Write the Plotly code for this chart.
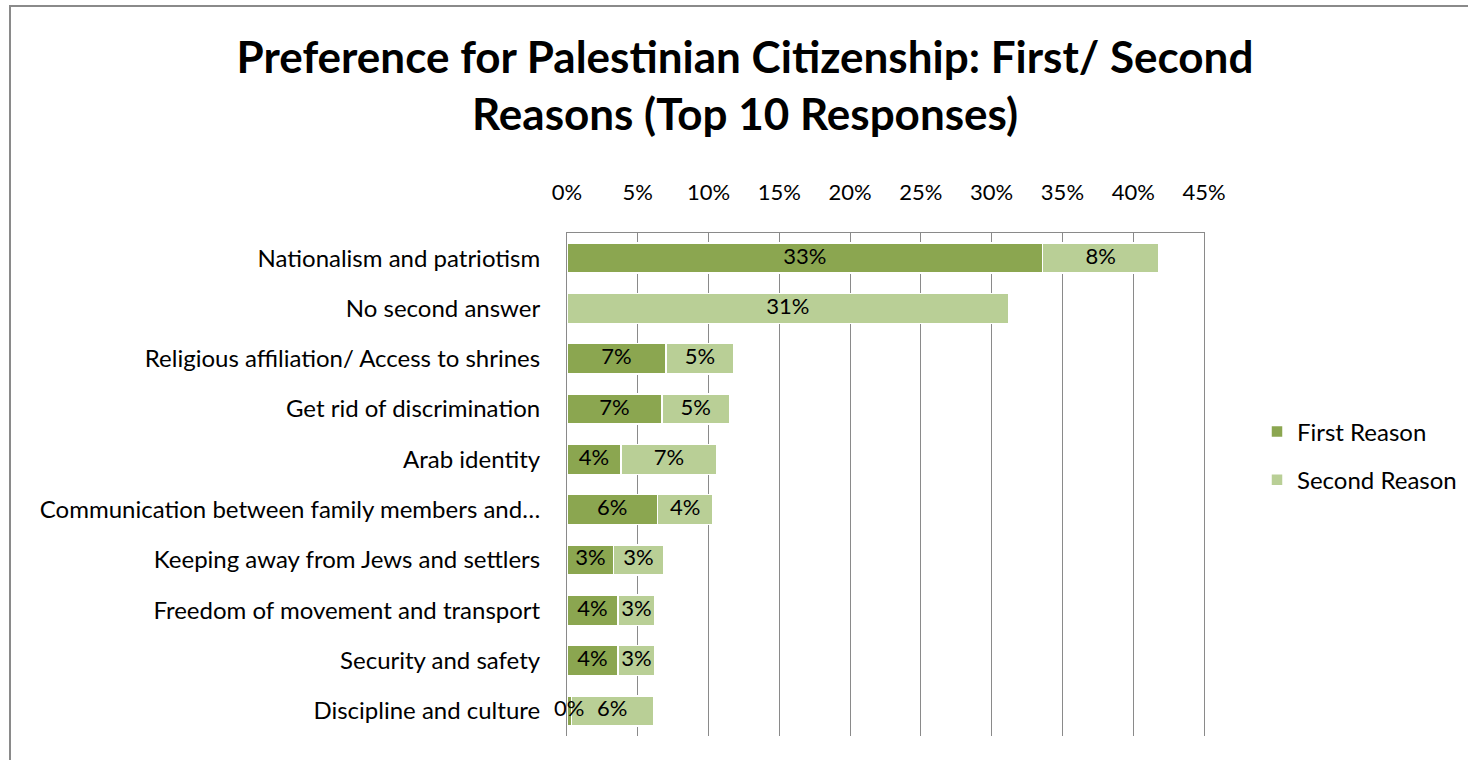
import plotly.graph_objects as go

categories = [
    "Nationalism and patriotism",
    "No second answer",
    "Religious affiliation/ Access to shrines",
    "Get rid of discrimination",
    "Arab identity",
    "Communication between family members and…",
    "Keeping away from Jews and settlers",
    "Freedom of movement and transport",
    "Security and safety",
    "Discipline and culture",
]
first_reason = [33.6, 0, 7.0, 6.7, 3.8, 6.4, 3.3, 3.6, 3.6, 0.3]
second_reason = [8.2, 31.2, 4.8, 4.8, 6.8, 3.9, 3.5, 2.6, 2.6, 5.8]
first_labels = ["33%", "", "7%", "7%", "4%", "6%", "3%", "4%", "4%", "0%"]
second_labels = ["8%", "31%", "5%", "5%", "7%", "4%", "3%", "3%", "3%", "6%"]

FONT = "Lato, Carlito, Calibri, sans-serif"
GRID = "#8a8a8a"

fig = go.Figure()
fig.add_trace(go.Bar(
    y=categories, x=first_reason, orientation="h", name="First Reason",
    marker=dict(color="#8BA650", line=dict(color="white", width=1.5)),
    legendgroup="a",
))
fig.add_trace(go.Bar(
    y=categories, x=second_reason, orientation="h", name="Second Reason",
    marker=dict(color="#B9CF96", line=dict(color="white", width=1.5)),
    legendgroup="b",
))
# data labels centred on each segment (positions derived from the data)
first_mid = [f / 2 for f in first_reason]
second_mid = [f + s / 2 for f, s in zip(first_reason, second_reason)]
fig.add_trace(go.Scatter(
    y=categories, x=first_mid, mode="text", text=first_labels,
    textposition="middle center", showlegend=False, hoverinfo="skip",
    textfont=dict(family=FONT, size=22, color="black"), cliponaxis=False,
))
fig.add_trace(go.Scatter(
    y=categories, x=second_mid, mode="text", text=second_labels,
    textposition="middle center", showlegend=False, hoverinfo="skip",
    textfont=dict(family=FONT, size=22, color="black"), cliponaxis=False,
))

W, H = 1468, 760
ml, mr, mt, mb = 567, 264, 233, 24
pw, ph = W - ml - mr, H - mt - mb

def px_x(x):
    return (x - ml) / pw

def px_y(y):
    return (H - mb - y) / ph

fig.update_layout(
    width=W, height=H,
    margin=dict(l=ml, r=mr, t=mt, b=mb, autoexpand=False),
    barmode="stack", bargap=0.4,
    plot_bgcolor="white", paper_bgcolor="white",
    font=dict(family=FONT, size=22, color="black"),
    title=dict(
        text="<b>Preference for Palestinian Citizenship: First/ Second<br>Reasons (Top 10 Responses)</b>",
        x=px_x(745), xref="paper", xanchor="center",
        y=1 - 73 / H, yref="container", yanchor="middle",
        font=dict(family=FONT, size=44, color="black"),
    ),
    xaxis=dict(
        side="top", range=[0, 45], dtick=5, ticksuffix="%",
        showgrid=True, gridcolor=GRID, gridwidth=1,
        showline=True, linecolor=GRID, linewidth=1,
        zeroline=False, ticks="", ticklabelstandoff=23,
        tickfont=dict(family=FONT, size=22, color="black"),
        fixedrange=True,
    ),
    yaxis=dict(
        autorange="reversed", showline=True, mirror=True,
        linecolor=GRID, linewidth=1,
        showgrid=False, ticks="", ticklabelstandoff=21,
        tickfont=dict(family=FONT, size=24, color="black"),
    ),
    legend=dict(
        x=px_x(1257), y=px_y(456), xanchor="left", yanchor="middle",
        font=dict(family=FONT, size=24, color="black"),
        traceorder="grouped", tracegroupgap=14, bgcolor="rgba(0,0,0,0)",
    ),
    shapes=[dict(
        type="rect", xref="paper", yref="paper",
        x0=px_x(10), x1=px_x(1700), y0=px_y(900), y1=px_y(6),
        line=dict(color="#8a8a8a", width=2), fillcolor="rgba(0,0,0,0)",
        layer="below",
    )],
)

fig.write_html(
    "out.html",
    config={"displayModeBar": False},
    post_script="document.body.style.margin='0px';document.body.style.overflow='hidden';",
)
